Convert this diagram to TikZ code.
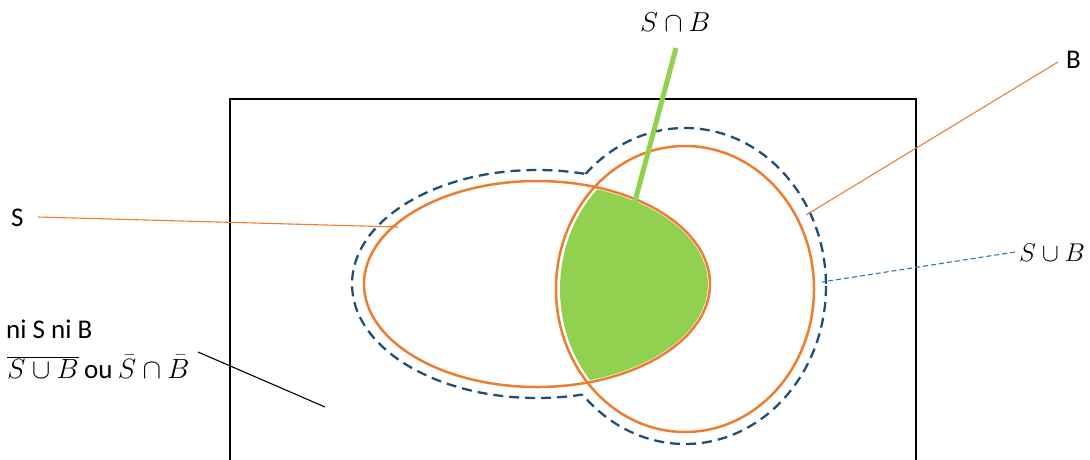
\documentclass[tikz,border=0pt]{standalone}
\usepackage{fontspec}
\setmainfont{Carlito}
\usetikzlibrary{shapes.geometric}
\definecolor{orng}{HTML}{ED7D31}
\definecolor{grn}{HTML}{92D050}
\definecolor{dblue}{HTML}{1F4E79}
\definecolor{lblue}{HTML}{2E75B6}
\begin{document}
\begin{tikzpicture}[x=1pt,y=-1pt,
  lbl/.style={inner sep=0pt, anchor=base west, font=\fontsize{27}{30}\selectfont},
  mlbl/.style={inner sep=0pt, anchor=base west, font=\fontsize{24}{28}\selectfont},
  ell/.style={draw=orng, line width=2.5pt, ellipse, inner sep=0pt},
  dline/.style={draw=dblue, line width=2.3pt, dash pattern=on 10pt off 6pt},
  oleader/.style={draw=orng, line width=1.1pt},
]
\useasboundingbox (0,0) rectangle (1090,459);
% frame
\draw[line width=2.5pt] (230,475) -- (230,99) -- (916,99) -- (916,475);
% intersection
\begin{scope}
  \clip (537,284) ellipse [x radius=171, y radius=101];
  \fill[grn] (685,289) ellipse [x radius=125, y radius=140];
\end{scope}
% dashed union outline
\begin{scope}[even odd rule]
  \clip (-10,-10) rectangle (1100,470) (685,286) ellipse [x radius=141, y radius=158];
  \draw[dline] (537,284) ellipse [x radius=185, y radius=114];
\end{scope}
\begin{scope}[even odd rule]
  \clip (-10,-10) rectangle (1100,470) (537,284) ellipse [x radius=185, y radius=114];
  \draw[dline] (685,286) ellipse [x radius=141, y radius=158];
\end{scope}
% sets
\node[ell, minimum width=346pt, minimum height=206pt] (S) at (537,284) {};
\node[ell, minimum width=258pt, minimum height=286pt] (B) at (685,289) {};
% labels
\node[lbl] (lS) at (11,226) {S};
\node[lbl] (lB) at (1066,68) {B};
\node[lbl] (lni) at (6,338) {ni S ni B};
\node[mlbl] (lcomp) at (7,378) {\scalebox{1.12}{$\overline{S\cup B}$} {\fontsize{27}{30}\selectfont ou} \scalebox{1.12}{$\bar{S}\cap\bar{B}$}};
\node[mlbl] (lSB) at (640,31) {\scalebox{1.1}{$S\cap B$}};
\node[mlbl] (lSuB) at (1019,261) {\scalebox{1.03}{$S\cup B$}};
% leader end points
\coordinate (eS) at (398,227);
\coordinate (eB) at (806,215);
\coordinate (eU) at (822,282);
\coordinate (eI) at (634,205);
\coordinate (eN) at (325,407);
\draw[oleader] (38,217) coordinate (sS) -- (eS);
\draw[oleader] (1058,62) coordinate (sB) -- (eB);
\draw[lblue, line width=1.1pt, dash pattern=on 5pt off 3pt] (1015,252) coordinate (sU) -- (eU);
\draw[grn, line width=5pt] (676,48) coordinate (sI) -- (eI);
\draw[line width=1.1pt] (198,352) coordinate (sN) -- (eN);
\end{tikzpicture}
\end{document}
